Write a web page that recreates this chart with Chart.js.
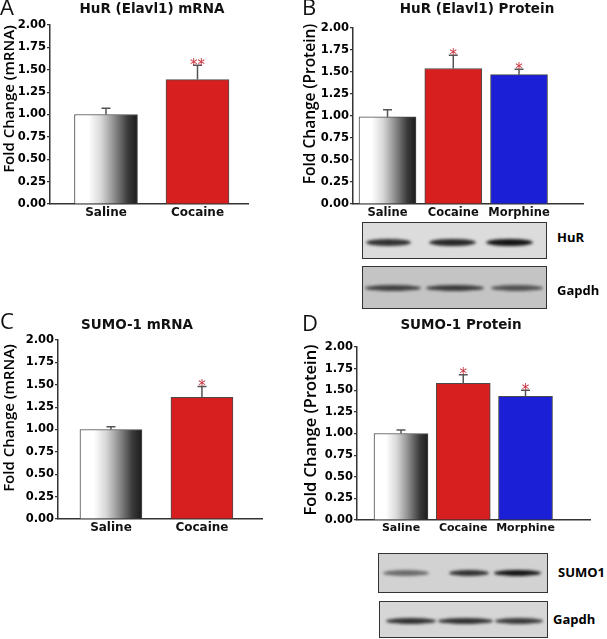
<!DOCTYPE html>
<html>
<head>
<meta charset="utf-8">
<script src="https://cdn.jsdelivr.net/npm/chart.js@4.4.1/dist/chart.umd.min.js"></script>
<style>
  body { margin: 0; background: #fff; }
  #fig { position: relative; width: 607px; height: 639px; overflow: hidden; }
  #fig canvas { position: absolute; }
  .blot { position: absolute; border: 1px solid #333; box-sizing: border-box; overflow: hidden; }
  .band { position: absolute; border-radius: 50%; filter: blur(1.4px); }
  .blabel { position: absolute; font: bold 13px "Open Sans", sans-serif; color: #000; }
</style>
</head>
<body>
<div id="fig">
  <canvas id="panelA" width="300" height="230" style="left:0;top:0"></canvas>
  <canvas id="panelB" width="307" height="221" style="left:300px;top:0"></canvas>
  <canvas id="panelC" width="300" height="250" style="left:0;top:300px"></canvas>
  <canvas id="panelD" width="307" height="250" style="left:300px;top:300px"></canvas>
</div>
<script>
// data (fold change, mean + SEM)
const hurMrnaGroups = ['Saline', 'Cocaine'];
const hurMrnaMean = [1.00, 1.39];
const hurMrnaSem = [0.07, 0.16];
const hurMrnaSig = ['', '**'];

const hurProtGroups = ['Saline', 'Cocaine', 'Morphine'];
const hurProtMean = [0.99, 1.54, 1.47];
const hurProtSem = [0.08, 0.15, 0.06];
const hurProtSig = ['', '*', '*'];

const sumoMrnaGroups = ['Saline', 'Cocaine'];
const sumoMrnaMean = [1.00, 1.36];
const sumoMrnaSem = [0.03, 0.12];
const sumoMrnaSig = ['', '*'];

const sumoProtGroups = ['Saline', 'Cocaine', 'Morphine'];
const sumoProtMean = [1.00, 1.58, 1.43];
const sumoProtSem = [0.04, 0.10, 0.07];
const sumoProtSig = ['', '*', '*'];

const yTicks = [0, 0.25, 0.5, 0.75, 1, 1.25, 1.5, 1.75, 2];

const groupColors = { Cocaine: '#d81f20', Morphine: '#1b1fd6' };
const boldFont = '"DejaVu Sans", sans-serif';
const plainFont = '"Open Sans", sans-serif';

function salineFill(ctx, width) {
    const chart = ctx.chart;
    const xs = chart.scales.x;
    if (!xs || !ctx.parsed) return '#888';
    const cx = xs.getPixelForValue(ctx.parsed.x);
    if (!isFinite(cx)) return '#888';
    const g = chart.ctx.createLinearGradient(cx - width / 2, 0, cx + width / 2, 0);
    g.addColorStop(0, '#ffffff');
    g.addColorStop(0.22, '#ffffff');
    g.addColorStop(0.42, '#d8d8d8');
    g.addColorStop(0.6, '#999999');
    g.addColorStop(0.85, '#393939');
    g.addColorStop(1, '#1c1c1c');
    return g;
}

const errorBars = {
    id: 'errorBars',
    afterDatasetsDraw(chart, args, opts) {
        const c = chart.ctx;
        const ys = chart.scales.y;
        const ds = chart.data.datasets[0];
        chart.getDatasetMeta(0).data.forEach((bar, i) => {
            const v = ds.data[i].y;
            const yTop = ys.getPixelForValue(v + opts.sem[i]);
            c.save();
            c.strokeStyle = '#555';
            c.lineWidth = 1.5;
            c.beginPath();
            c.moveTo(bar.x, bar.y);
            c.lineTo(bar.x, yTop);
            c.moveTo(bar.x - 4.5, yTop);
            c.lineTo(bar.x + 4.5, yTop);
            c.stroke();
            if (opts.sig[i]) {
                c.fillStyle = '#c8323c';
                c.font = '15px ' + boldFont;
                c.textAlign = 'center';
                c.textBaseline = 'alphabetic';
                c.fillText(opts.sig[i], bar.x, yTop + 4.5);
            }
            c.restore();
        });
    }
};

const panelText = {
    id: 'panelText',
    afterDraw(chart, args, o) {
        const c = chart.ctx;
        c.save();
        c.fillStyle = '#111';
        c.textBaseline = 'middle';
        c.textAlign = 'left';
        c.font = '22px ' + plainFont;
        c.fillText(o.letter, o.letterX, o.letterY);
        c.textAlign = 'center';
        c.font = 'bold 13.5px ' + boldFont;
        c.fillText(o.title, o.titleX, o.titleY);
        c.translate(o.yTitleX, o.yTitleY);
        c.rotate(-Math.PI / 2);
        c.fillStyle = '#000';
        c.font = '600 ' + o.yTitleSize + 'px ' + plainFont;
        c.fillText(o.yTitle, 0, 0);
        c.restore();
    }
};

function makePanel(id, groups, means, sem, sig, lay, text) {
    const canvas = document.getElementById(id);
    const data = means.map((m, i) => ({ x: lay.first + i, y: m }));
    return new Chart(canvas, {
        type: 'bar',
        data: {
            datasets: [{
                data: data,
                backgroundColor: (ctx) => groups[ctx.dataIndex] === 'Saline'
                    ? salineFill(ctx, lay.barWidth) : groupColors[groups[ctx.dataIndex]],
                borderColor: '#4a4a4a',
                borderWidth: 1,
                borderSkipped: 'bottom',
                barThickness: lay.barWidth,
            }],
        },
        options: {
            responsive: false,
            animation: false,
            devicePixelRatio: 1,
            events: [],
            layout: { padding: { top: lay.top, right: canvas.width - lay.right, bottom: 0, left: 0 } },
            scales: {
                x: {
                    type: 'linear',
                    min: 0,
                    max: lay.xMax,
                    offset: false,
                    afterBuildTicks: (scale) => { scale.ticks = groups.map((g, i) => ({ value: lay.first + i })); },
                    afterFit: (scale) => { scale.height = canvas.height - lay.bottom; },
                    grid: { display: false, drawTicks: false },
                    border: { display: true, color: '#333', width: 1.5 },
                    ticks: {
                        autoSkip: false,
                        maxRotation: 0,
                        padding: 2,
                        color: '#111',
                        font: { family: boldFont, weight: 'bold', size: lay.xFont },
                        callback: (v, i) => groups[i],
                    },
                },
                y: {
                    min: 0,
                    max: 2,
                    afterBuildTicks: (scale) => { scale.ticks = yTicks.map(v => ({ value: v })); },
                    afterFit: (scale) => { scale.width = lay.left; },
                    grid: { drawOnChartArea: false, drawTicks: true, tickLength: 3, color: '#333', lineWidth: 1.2 },
                    border: { display: true, color: '#333', width: 1.5 },
                    ticks: {
                        padding: 1,
                        color: '#000',
                        font: { family: boldFont, weight: 'bold', size: 11.5 },
                        callback: (v) => v.toFixed(2),
                    },
                },
            },
            plugins: {
                legend: { display: false },
                tooltip: { enabled: false },
                errorBars: { sem: sem, sig: sig },
                panelText: text,
            },
        },
        plugins: [errorBars, panelText],
    });
}

makePanel('panelA', hurMrnaGroups, hurMrnaMean, hurMrnaSem, hurMrnaSig,
    { left: 50, top: 25, right: 248, bottom: 204, xMax: 2.164, first: 0.612, barWidth: 63, xFont: 12 },
    { letter: 'A', letterX: 0, letterY: 9, title: 'HuR (Elavl1) mRNA', titleX: 152, titleY: 9,
      yTitle: 'Fold Change (mRNA)', yTitleX: 10, yTitleY: 99, yTitleSize: 15 });

makePanel('panelB', hurProtGroups, hurProtMean, hurProtSem, hurProtSig,
    { left: 53, top: 28, right: 283, bottom: 204, xMax: 3.498, first: 0.525, barWidth: 57, xFont: 11.5 },
    { letter: 'B', letterX: 2, letterY: 9, title: 'HuR (Elavl1) Protein', titleX: 177, titleY: 9,
      yTitle: 'Fold Change (Protein)', yTitleX: 11, yTitleY: 104, yTitleSize: 15.5 });

makePanel('panelC', sumoMrnaGroups, sumoMrnaMean, sumoMrnaSem, sumoMrnaSig,
    { left: 58, top: 40, right: 262, bottom: 219, xMax: 2.242, first: 0.582, barWidth: 62, xFont: 12 },
    { letter: 'C', letterX: 0, letterY: 23, title: 'SUMO-1 mRNA', titleX: 137, titleY: 25,
      yTitle: 'Fold Change (mRNA)', yTitleX: 10, yTitleY: 118, yTitleSize: 15 });

makePanel('panelD', sumoProtGroups, sumoProtMean, sumoProtSem, sumoProtSig,
    { left: 57, top: 47, right: 290, bottom: 220, xMax: 3.743, first: 0.707, barWidth: 54, xFont: 11 },
    { letter: 'D', letterX: 2, letterY: 25, title: 'SUMO-1 Protein', titleX: 161, titleY: 25,
      yTitle: 'Fold Change (Protein)', yTitleX: 11, yTitleY: 130, yTitleSize: 16.5 });

// western blot strips under the protein panels
const blots = [
    { x: 362, y: 222, w: 185, h: 37, bg: '#dcdcdc', bandY: 19, bandH: 7,
      lanes: [[365, 45, 0.85], [428, 47, 0.9], [485, 47, 1.0]], label: 'HuR', lx: 557, ly: 228 },
    { x: 362, y: 266, w: 185, h: 43, bg: '#c4c4c4', bandY: 21, bandH: 6,
      lanes: [[364, 56, 0.75], [425, 58, 0.78], [490, 52, 0.65]], label: 'Gapdh', lx: 557, ly: 281 },
    { x: 378, y: 553, w: 170, h: 40, bg: '#d2d2d2', bandY: 19, bandH: 6,
      lanes: [[382, 46, 0.55], [448, 40, 0.85], [493, 47, 1.0]], label: 'SUMO1', lx: 558, ly: 563 },
    { x: 379, y: 601, w: 169, h: 37, bg: '#d6d6d6', bandY: 19, bandH: 6,
      lanes: [[385, 50, 0.85], [437, 55, 0.85], [494, 48, 0.8]], label: 'Gapdh', lx: 553, ly: 610 },
];
const fig = document.getElementById('fig');
blots.forEach((b) => {
    const d = document.createElement('div');
    d.className = 'blot';
    Object.assign(d.style, { left: b.x + 'px', top: b.y + 'px', width: b.w + 'px', height: b.h + 'px', background: b.bg });
    b.lanes.forEach(([lx, lw, a]) => {
        const band = document.createElement('div');
        band.className = 'band';
        Object.assign(band.style, { left: (lx - b.x) + 'px', top: (b.bandY - b.bandH / 2) + 'px',
            width: lw + 'px', height: b.bandH + 'px', background: `rgba(20,20,20,${a})` });
        d.append(band);
    });
    fig.append(d);
    const t = document.createElement('div');
    t.className = 'blabel';
    t.textContent = b.label;
    Object.assign(t.style, { left: b.lx + 'px', top: b.ly + 'px' });
    fig.append(t);
});
</script>
</body>
</html>
